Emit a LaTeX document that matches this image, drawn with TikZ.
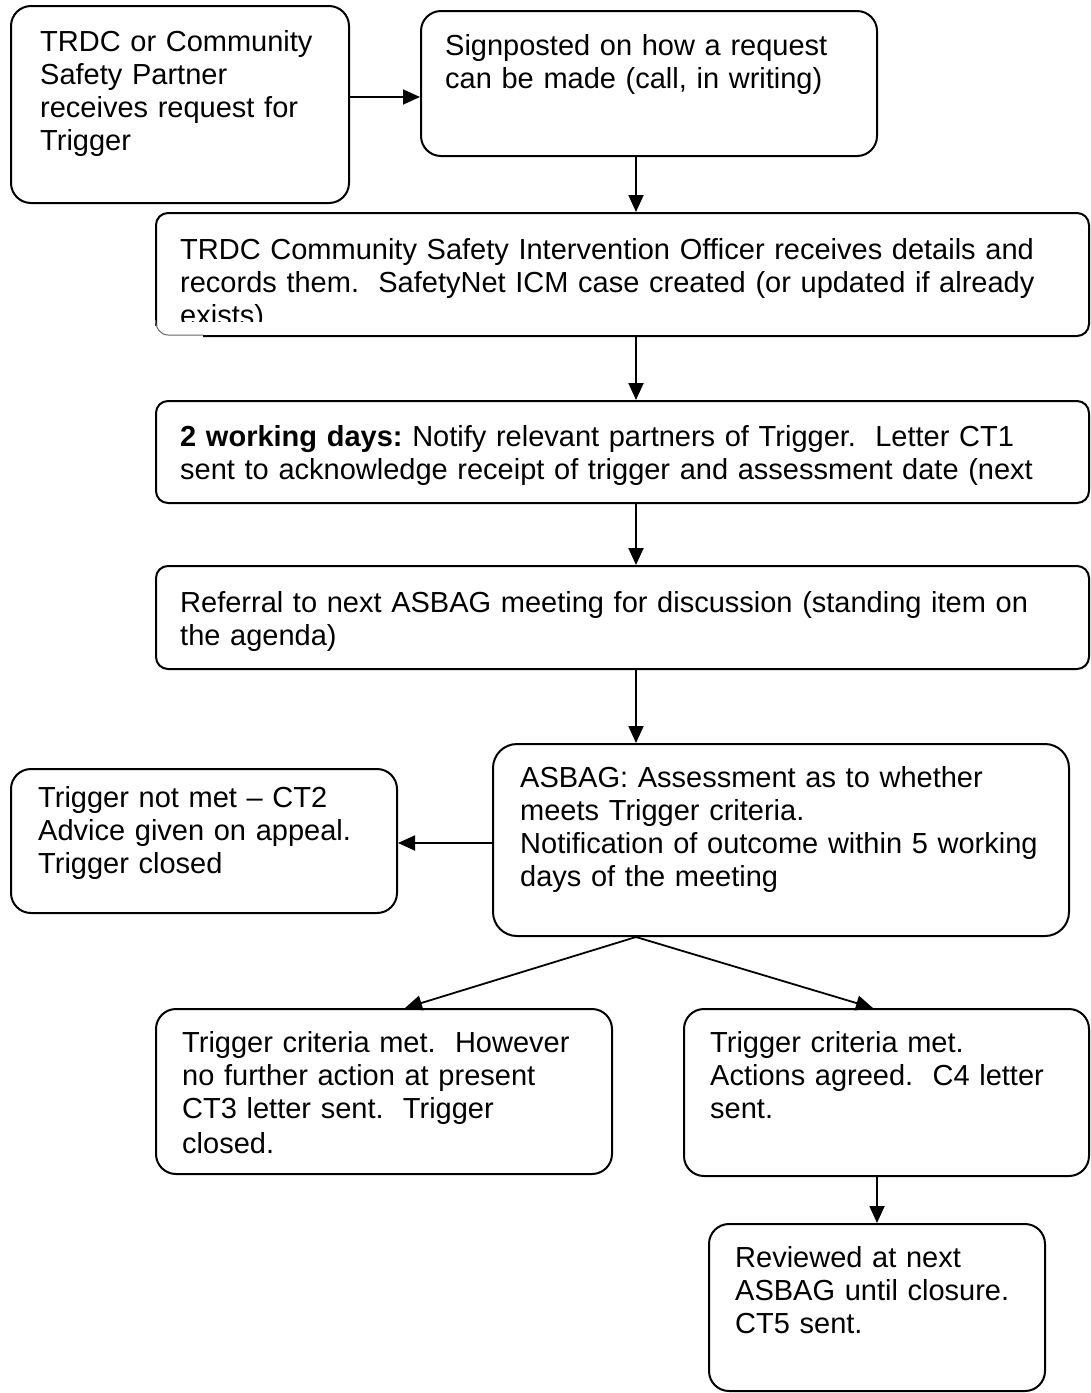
\documentclass[tikz,border=0pt]{standalone}
\usepackage{fontspec}
\setmainfont{Liberation Sans}
\usetikzlibrary{arrows.meta}
\begin{document}
\frenchspacing
\begin{tikzpicture}[x=1pt,y=-1pt,
  box/.style={draw=black, line width=2pt, rounded corners=20pt, anchor=north west, inner sep=0pt},
  sbox/.style={box, rounded corners=12pt},
  txt/.style={anchor=north west, align=left, inner sep=0pt, font=\fontsize{29}{33}\selectfont},
  arr/.style={line width=1.8pt, -{Triangle[length=17pt,width=15pt]}}]
\useasboundingbox (0,0) rectangle (1091,1393);
\fill[white] (0,0) rectangle (1091,1393);
% boxes
\node[box, minimum width=338pt, minimum height=197pt] (b1) at (10,5) {};
\node[box, minimum width=456pt, minimum height=145pt] (b2) at (420,10) {};
\node[sbox, minimum width=933pt, minimum height=123pt] (b3) at (155,212) {};
\node[sbox, minimum width=933pt, minimum height=102pt] (b4) at (155,400) {};
\node[sbox, minimum width=933pt, minimum height=103pt] (b5) at (155,565) {};
\node[box, rounded corners=24pt, minimum width=576pt, minimum height=192pt] (b6) at (492,743) {};
\node[box, minimum width=386pt, minimum height=144pt] (b7) at (10,768) {};
\node[box, minimum width=456pt, minimum height=165pt] (b8) at (155,1008) {};
\node[box, minimum width=405pt, minimum height=167pt] (b9) at (683,1008) {};
\node[box, minimum width=336pt, minimum height=167pt] (b10) at (708,1223) {};
% texts
\node[txt, text width=300pt] (t1) at (40,30) {TRDC or Community\\Safety Partner\\receives request for\\Trigger};
\node[txt, text width=420pt] (t2) at (445,34) {Signposted on how a request\\can be made (call, in writing)};
\begin{scope}
\clip (155,212) rectangle (1089,321);
\node[txt, text width=900pt] (t3) at (180,238) {TRDC Community Safety Intervention Officer receives details and\\records them.\ \ SafetyNet ICM case created (or updated if already\\exists)};
\end{scope}
\fill[white] (152,326) rectangle (203,339);
\draw[line width=1pt, black!60] (155.5,320) to[out=-90,in=180] (168,335) -- (203,335);
\node[txt, text width=900pt] (t4) at (180,425) {\textbf{2 working days:} Notify relevant partners of Trigger.\ \ Letter CT1\\sent to acknowledge receipt of trigger and assessment date (next};
\node[txt, text width=900pt] (t5) at (180,591) {Referral to next ASBAG meeting for discussion (standing item on\\the agenda)};
\node[txt, text width=540pt] (t6) at (520,766) {ASBAG: Assessment as to whether\\meets Trigger criteria.\\Notification of outcome within 5 working\\days of the meeting};
\node[txt, text width=350pt] (t7) at (38,786) {Trigger not met -- CT2\\Advice given on appeal.\\Trigger closed};
\node[txt, text width=420pt] (t8) at (182,1031) {Trigger criteria met.\ \ However\\no further action at present\\CT3 letter sent.\ \ Trigger\\[2pt]closed.};
\node[txt, text width=380pt] (t9) at (710,1031) {Trigger criteria met.\\Actions agreed.\ \ C4 letter\\sent.};
\node[txt, text width=300pt] (t10) at (735,1246) {Reviewed at next\\ASBAG until closure.\\CT5 sent.};
% connectors
\draw[arr] (b1.east |- 0,97) -- (b2.west |- 0,97);
\draw[arr] (b2.south -| 636,0) -- (b3.north -| 636,0);
\draw[arr] (b3.south -| 636,0) -- (b4.north -| 636,0);
\draw[arr] (b4.south -| 636,0) -- (b5.north -| 636,0);
\draw[arr] (b5.south -| 636,0) -- (b6.north -| 636,0);
\draw[arr] (b6.west |- 0,843) -- (b7.east |- 0,843);
\draw[arr] (b6.south -| 636,0) -- (b8.north -| 405,0);
\draw[arr] (b6.south -| 636,0) -- (b9.north -| 873,0);
\draw[arr] (b9.south -| 877,0) -- (b10.north -| 877,0);
\end{tikzpicture}
\end{document}
